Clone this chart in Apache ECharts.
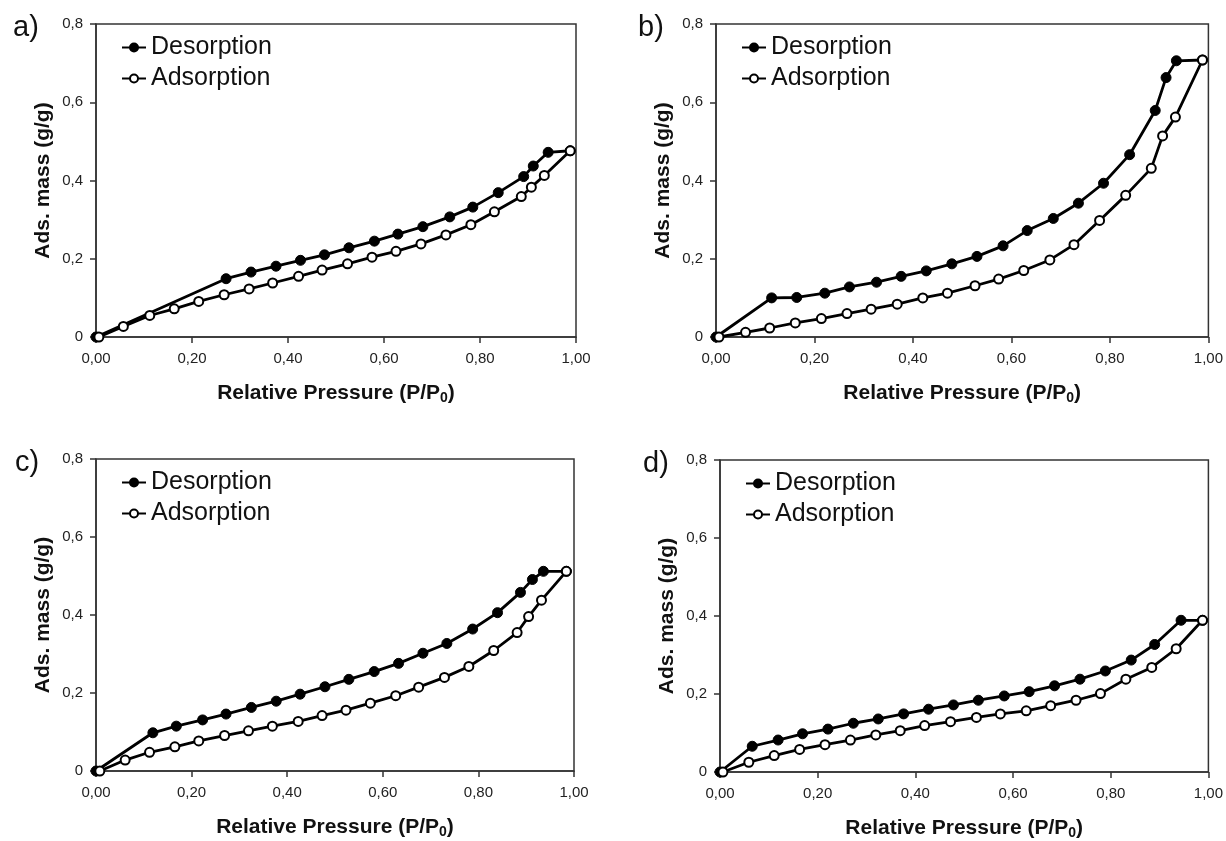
<!DOCTYPE html>
<html>
<head>
<meta charset="utf-8">
<script src="https://cdn.jsdelivr.net/npm/echarts@6/dist/echarts.min.js"></script>
<style>
  html, body { margin: 0; padding: 0; background: #fff; }
  #chart { width: 1226px; height: 841px; }
</style>
</head>
<body>
<div id="chart"></div>
<script>
// panel letters
var panelLabels = ['a)', 'b)', 'c)', 'd)']

// a) desorption / adsorption (x = P/P0, y = g/g)
var desA_x = [0.988, 0.942, 0.911, 0.891, 0.838, 0.785, 0.737, 0.681, 0.629, 0.580, 0.527, 0.476, 0.426, 0.375, 0.323, 0.271, 0.0]
var desA_y = [0.476, 0.472, 0.437, 0.410, 0.369, 0.332, 0.307, 0.282, 0.263, 0.245, 0.228, 0.210, 0.196, 0.181, 0.166, 0.149, 0.0]
var adsA_x = [0.006, 0.057, 0.112, 0.163, 0.214, 0.267, 0.319, 0.368, 0.422, 0.471, 0.524, 0.575, 0.625, 0.677, 0.729, 0.781, 0.830, 0.886, 0.907, 0.934, 0.988]
var adsA_y = [0.0, 0.027, 0.055, 0.072, 0.091, 0.108, 0.123, 0.138, 0.155, 0.171, 0.187, 0.204, 0.219, 0.238, 0.261, 0.287, 0.320, 0.359, 0.383, 0.413, 0.476]

// b)
var desB_x = [0.988, 0.935, 0.914, 0.892, 0.840, 0.787, 0.736, 0.685, 0.632, 0.583, 0.530, 0.479, 0.427, 0.376, 0.326, 0.271, 0.221, 0.164, 0.113, 0.0]
var desB_y = [0.708, 0.706, 0.663, 0.579, 0.466, 0.393, 0.342, 0.303, 0.272, 0.233, 0.206, 0.187, 0.169, 0.155, 0.140, 0.128, 0.112, 0.101, 0.100, 0.0]
var adsB_x = [0.006, 0.060, 0.109, 0.161, 0.214, 0.266, 0.315, 0.368, 0.420, 0.470, 0.526, 0.574, 0.625, 0.678, 0.727, 0.779, 0.832, 0.884, 0.907, 0.933, 0.988]
var adsB_y = [0.0, 0.012, 0.023, 0.036, 0.047, 0.060, 0.071, 0.084, 0.100, 0.112, 0.131, 0.148, 0.170, 0.197, 0.236, 0.298, 0.362, 0.431, 0.514, 0.562, 0.708]

// c)
var desC_x = [0.984, 0.936, 0.913, 0.888, 0.840, 0.788, 0.734, 0.684, 0.633, 0.582, 0.529, 0.479, 0.427, 0.377, 0.325, 0.272, 0.223, 0.168, 0.119, 0.0]
var desC_y = [0.512, 0.512, 0.491, 0.458, 0.406, 0.364, 0.327, 0.302, 0.276, 0.255, 0.235, 0.216, 0.197, 0.179, 0.163, 0.146, 0.131, 0.115, 0.098, 0.0]
var adsC_x = [0.008, 0.061, 0.112, 0.165, 0.215, 0.269, 0.319, 0.369, 0.423, 0.473, 0.523, 0.574, 0.627, 0.675, 0.729, 0.780, 0.832, 0.881, 0.905, 0.932, 0.984]
var adsC_y = [0.0, 0.028, 0.048, 0.062, 0.077, 0.091, 0.103, 0.115, 0.127, 0.142, 0.156, 0.174, 0.193, 0.215, 0.240, 0.268, 0.309, 0.355, 0.396, 0.438, 0.512]

// d)
var desD_x = [0.988, 0.944, 0.890, 0.842, 0.789, 0.737, 0.685, 0.633, 0.582, 0.529, 0.478, 0.427, 0.376, 0.324, 0.273, 0.221, 0.169, 0.119, 0.066, 0.0]
var desD_y = [0.389, 0.389, 0.327, 0.287, 0.259, 0.238, 0.221, 0.206, 0.195, 0.184, 0.172, 0.161, 0.149, 0.136, 0.125, 0.110, 0.098, 0.082, 0.066, 0.0]
var adsD_x = [0.006, 0.059, 0.111, 0.163, 0.215, 0.267, 0.319, 0.369, 0.419, 0.472, 0.525, 0.574, 0.627, 0.677, 0.729, 0.779, 0.831, 0.884, 0.934, 0.988]
var adsD_y = [0.0, 0.025, 0.042, 0.058, 0.070, 0.082, 0.095, 0.106, 0.119, 0.129, 0.140, 0.149, 0.157, 0.170, 0.184, 0.201, 0.238, 0.268, 0.316, 0.389]

var panels = [
  { des: [desA_x, desA_y], ads: [adsA_x, adsA_y], grid: { left: 96, top: 24, width: 480, height: 313 }, letter: { left: 8, top: 8 } },
  { des: [desB_x, desB_y], ads: [adsB_x, adsB_y], grid: { left: 716, top: 24, width: 494, height: 313 }, letter: { left: 633, top: 8 } },
  { des: [desC_x, desC_y], ads: [adsC_x, adsC_y], grid: { left: 96, top: 459, width: 478, height: 312 }, letter: { left: 10, top: 443 } },
  { des: [desD_x, desD_y], ads: [adsD_x, adsD_y], grid: { left: 720, top: 460, width: 490, height: 313 }, letter: { left: 638, top: 444 } }
]

function zip(xs, ys){
  var out = []
  for (var i = 0; i < xs.length; i++) out.push([xs[i], ys[i]])
  return out
}

var FONT = 'Liberation Sans, Arial, sans-serif'
var INK = '#111'

var grids = [], xAxes = [], yAxes = [], series = [], legends = [], titles = []

panels.forEach(function(p, i){
  grids.push({
    left: p.grid.left, top: p.grid.top, width: p.grid.width, height: p.grid.height,
    show: true, borderColor: '#333', borderWidth: 1.5, backgroundColor: 'transparent'
  })
  xAxes.push({
    gridIndex: i, type: 'value', min: 0, max: 1, interval: 0.2,
    name: '{b|Relative Pressure (P/P}{s|0}{b|)}',
    nameLocation: 'middle', nameGap: 44,
    nameTextStyle: {
      rich: {
        b: { fontFamily: FONT, fontWeight: 'bold', fontSize: 21, color: INK, lineHeight: 24 },
        s: { fontFamily: FONT, fontWeight: 'bold', fontSize: 14, color: INK, lineHeight: 24, verticalAlign: 'bottom', padding: [14, 0, 0, 0] }
      }
    },
    axisLine: { show: true, lineStyle: { color: '#333', width: 1.5 } },
    axisTick: { show: true, inside: false, length: 6, lineStyle: { color: '#333', width: 1.5 } },
    axisLabel: {
      margin: 14, fontFamily: FONT, fontSize: 15, color: '#222',
      formatter: function(v){ return v.toFixed(2).replace('.', ',') }
    },
    splitLine: { show: false }
  })
  yAxes.push({
    gridIndex: i, type: 'value', min: 0, max: 0.8, interval: 0.2,
    name: 'Ads. mass (g/g)', nameLocation: 'middle', nameGap: 42, nameRotate: 90,
    nameTextStyle: { fontFamily: FONT, fontWeight: 'bold', fontSize: 21, color: INK },
    axisLine: { show: true, lineStyle: { color: '#333', width: 1.5 } },
    axisTick: { show: true, inside: false, length: 6, lineStyle: { color: '#333', width: 1.5 } },
    axisLabel: {
      margin: 13, fontFamily: FONT, fontSize: 15, color: '#222',
      formatter: function(v){ return v === 0 ? '0' : v.toFixed(1).replace('.', ',') }
    },
    splitLine: { show: false }
  })
  series.push({
    name: 'Desorption', type: 'line', xAxisIndex: i, yAxisIndex: i,
    data: zip(p.des[0], p.des[1]),
    symbol: 'circle', symbolSize: 10,
    lineStyle: { color: '#000', width: 2.8 },
    itemStyle: { color: '#000', borderColor: '#000', borderWidth: 1 },
    emphasis: { disabled: true }, animation: false
  })
  series.push({
    name: 'Adsorption', type: 'line', xAxisIndex: i, yAxisIndex: i,
    data: zip(p.ads[0], p.ads[1]),
    symbol: 'circle', symbolSize: 9,
    lineStyle: { color: '#000', width: 2.8 },
    itemStyle: { color: '#fff', borderColor: '#000', borderWidth: 2 },
    emphasis: { disabled: true }, animation: false
  })
  legends.push({
    orient: 'vertical', left: p.grid.left + 20, top: p.grid.top + 6,
    itemWidth: 24, itemHeight: 10, itemGap: 6,
    textStyle: { fontFamily: FONT, fontSize: 25, color: INK },
    data: ['Desorption', 'Adsorption'],
    selectedMode: false
  })
  titles.push({
    text: panelLabels[i], left: p.letter.left, top: p.letter.top,
    textStyle: { fontFamily: FONT, fontSize: 29, fontWeight: 'normal', color: INK }
  })
})

var myChart = echarts.init(document.getElementById('chart'), null, { renderer: 'canvas' })
myChart.setOption({
  backgroundColor: '#fff',
  animation: false,
  title: titles,
  legend: legends,
  grid: grids,
  xAxis: xAxes,
  yAxis: yAxes,
  series: series
})
</script>
</body>
</html>
